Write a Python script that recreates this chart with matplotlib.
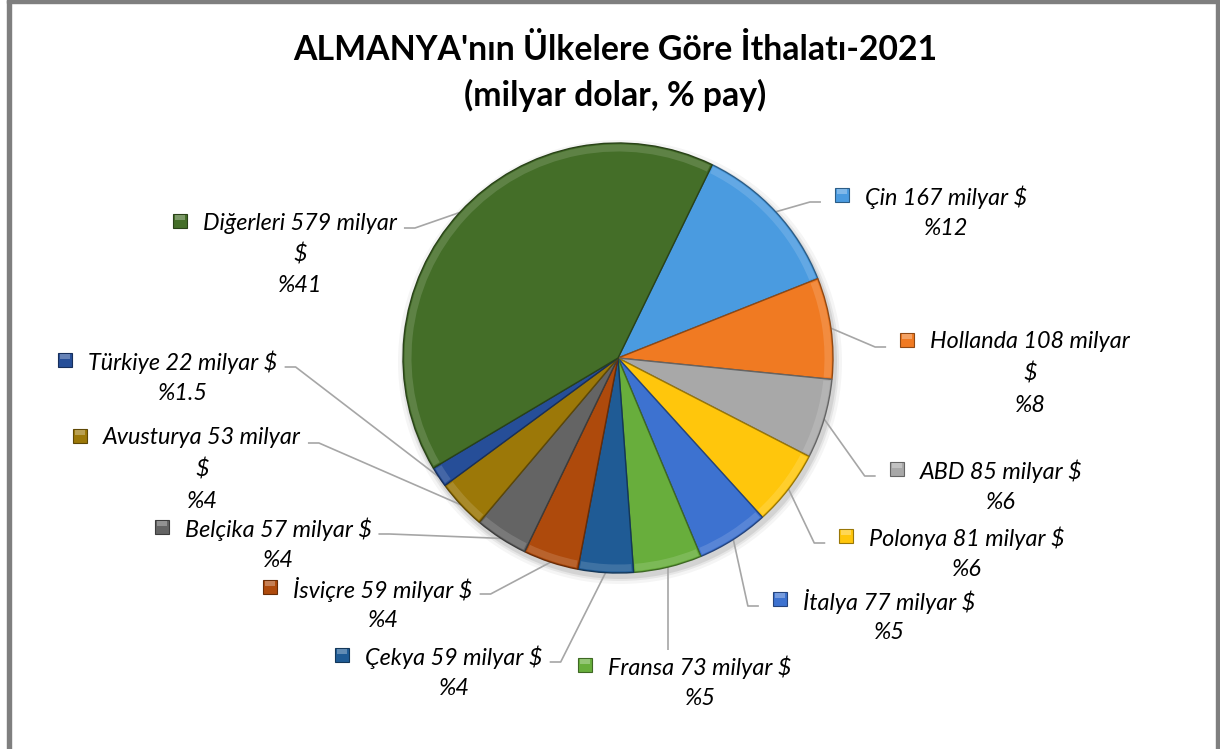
import numpy as np
import matplotlib.pyplot as plt
import matplotlib.colors as mcolors
from matplotlib.patches import Rectangle, Wedge, Circle

# Data
countries = ['Çin', 'Hollanda', 'ABD', 'Polonya', 'İtalya', 'Fransa',
             'Çekya', 'İsviçre', 'Belçika', 'Avusturya', 'Türkiye', 'Diğerleri']
values = [167, 108, 85, 81, 77, 73, 59, 59, 57, 53, 22, 579]
shares = ['12', '8', '6', '6', '5', '5', '4', '4', '4', '4', '1.5', '41']
colors = ['#4A9BE0', '#F07A22', '#A8A8A8', '#FFC60C', '#3D72D0', '#68AE3C',
          '#1F5B95', '#AE4A0C', '#646464', '#9C7808', '#264E98', '#446E28']
# labels that Excel wrapped before the "$"
wrapped = ['Hollanda', 'Avusturya', 'Diğerleri']

W, H = 1220, 749
# label layout in pixels (text centre x, first line y, side)
label_pos = [(946, 197, 'R'), (1030, 342, 'R'), (1001, 471, 'R'),
             (967, 538, 'R'), (889, 601, 'R'), (700, 667, 'B'),
             (454, 657, 'L'), (383, 589, 'L'), (278, 529, 'L'),
             (202, 438, 'L'), (183, 362, 'L'), (300, 223, 'L')]
cx, cy, R = 618, 358, 215
line_step = 31.5

plt.rcParams['font.family'] = ['Lato', 'DejaVu Sans']

fig = plt.figure(figsize=(W / 100, H / 100), dpi=100)
ax = fig.add_axes([0, 0, 1, 1])

# soft shadow under the pie
for k, a in [(7, 0.04), (4, 0.06), (2, 0.08)]:
    ax.add_patch(Circle((cx + 2, H - cy - 4), R + k, color='black', alpha=a, lw=0, zorder=0))

wedges, _ = ax.pie(values, colors=colors, startangle=64, counterclock=False,
                   center=(cx, H - cy), radius=R,
                   wedgeprops=dict(linewidth=1.0, zorder=2))
for w, c in zip(wedges, colors):
    rgb = np.array(mcolors.to_rgb(c))
    w.set_edgecolor(rgb * 0.6)
    # soft lighter band along the inside of each slice (bevel look)
    band = Wedge(w.center, w.r - 1.5, w.theta1 + 0.5, w.theta2 - 0.5, width=7,
                 facecolor=rgb * 0.6 + 0.4, edgecolor='none', alpha=0.35, zorder=3)
    ax.add_patch(band)

ax.set_xlim(0, W)
ax.set_ylim(0, H)
ax.set_aspect('auto')
ax.axis('off')

# title
ax.text(615, H - 50, "ALMANYA'nın Ülkelere Göre İthalatı-2021", ha='center', va='center',
        fontsize=24.3, fontweight='bold', color='black')
ax.text(615, H - 95, "(milyar dolar, % pay)", ha='center', va='center',
        fontsize=24.3, fontweight='bold', color='black')

# labels
first_lines = []
for name, v, s, (tx, ty, side) in zip(countries, values, shares, label_pos):
    if name in wrapped:
        lines = [f'{name} {v} milyar', '$', f'%{s}']
    else:
        lines = [f'{name} {v} milyar $', f'%{s}']
    objs = []
    for i, ln in enumerate(lines):
        t = ax.text(tx, H - ty - i * line_step, ln, ha='center', va='center',
                    fontsize=16.8, fontstyle='italic', color='black')
        objs.append(t)
    first_lines.append(objs[0])

fig.canvas.draw()
renderer = fig.canvas.get_renderer()

for w, c, t, (tx, ty, side) in zip(wedges, colors, first_lines, label_pos):
    bb = t.get_window_extent(renderer)
    rgb = np.array(mcolors.to_rgb(c))
    mx = bb.x0 - 23
    my = H - ty + 2
    ax.add_patch(Rectangle((mx - 7, my - 7), 14, 14, facecolor=rgb,
                           edgecolor=rgb * 0.6, lw=0.8, zorder=4))
    ax.add_patch(Rectangle((mx - 5, my + 1), 10, 5, facecolor=rgb * 0.5 + 0.5,
                           edgecolor='none', alpha=0.6, zorder=5))
    mid = np.deg2rad((w.theta1 + w.theta2) / 2)
    ex, ey = cx + R * np.cos(mid), H - cy + R * np.sin(mid)
    ly = H - ty - 5
    if side == 'R':
        end = mx - 7 - 14
        xs, ys = [ex, end - 11, end], [ey, ly, ly]
    elif side == 'L':
        end = bb.x1 + 7
        xs, ys = [ex, end + 11, end], [ey, ly, ly]
    else:
        xs, ys = [ex, ex], [ey, H - ty + 17]
    ax.plot(xs, ys, color='#A6A6A6', lw=1.2, zorder=1, solid_capstyle='butt')

# chart frame
fig.patches.append(Rectangle((7, 0), 4, H, transform=None, color='#7F7F7F'))
fig.patches.append(Rectangle((7, H - 3), W - 7, 3, transform=None, color='#7F7F7F'))
fig.patches.append(Rectangle((W - 4, 0), 4, H, transform=None, color='#7F7F7F'))

fig.savefig('out.png', dpi=100)
